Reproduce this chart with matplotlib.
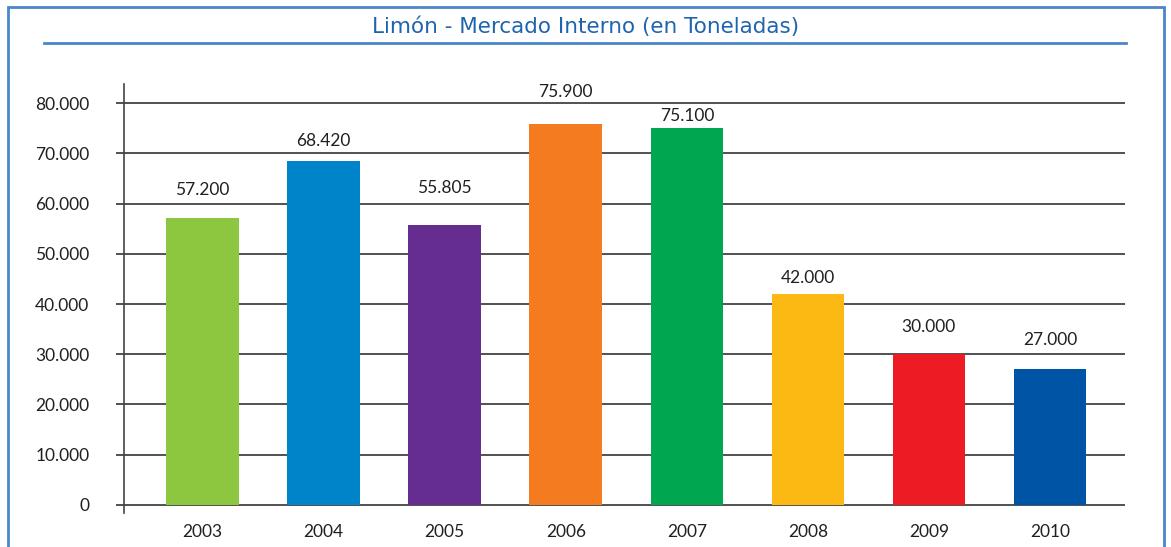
import matplotlib.pyplot as plt
from matplotlib.patches import Rectangle
from matplotlib.lines import Line2D

plt.rcParams['font.family'] = ['Lato', 'DejaVu Sans']

# datos del gráfico
years = ['2003', '2004', '2005', '2006', '2007', '2008', '2009', '2010']
toneladas = [57200, 68420, 55805, 75900, 75100, 42000, 30000, 27000]
bar_colors = ['#8DC63F', '#0084C9', '#662D91', '#F47B20',
              '#00A650', '#FDB913', '#ED1C24', '#0054A6']
y_ticks = [0, 10000, 20000, 30000, 40000, 50000, 60000, 70000, 80000]

# desplazamiento de cada etiqueta sobre la barra (px), para no pisar la grilla
label_off_px = [28, 20, 37, 32, 12, 16, 27, 29]


def fmt_miles(v):
    # separador de miles con punto
    return f'{v:,.0f}'.replace(',', '.')


fig = plt.figure(figsize=(11.71, 5.47), dpi=100)
W, H = 1171, 547

# marco azul exterior
fig.patches.append(Rectangle((8 / W, -0.05), 1156 / W, 1.05 - 7 / H,
                             transform=fig.transFigure, fill=False,
                             edgecolor='#4A86C8', linewidth=2))
# título y línea
fig.text(0.5, 1 - 27 / H, 'Limón - Mercado Interno (en Toneladas)',
         ha='center', va='center', color='#1F64AF', fontsize=15.5,
         family='DejaVu Sans')
fig.lines.append(Line2D([44 / W, 1126 / W], [1 - 43 / H, 1 - 43 / H],
                        transform=fig.transFigure, color='#4A86C8', linewidth=2))

ax = fig.add_axes([124 / W, 1 - 513 / H, (1125 - 124) / W, (513 - 84) / H])
x = range(len(years))
bars = ax.bar(x, toneladas, width=0.6, color=bar_colors, zorder=3)

for b, v, off in zip(bars, toneladas, label_off_px):
    ax.annotate(fmt_miles(v), (b.get_x() + b.get_width() / 2, v),
                xytext=(0, off * 72 / 100), textcoords='offset points',
                ha='center', va='center', fontsize=12.5, color='#231F20')

ax.set_xlim(-0.65, 7.62)
ax.set_ylim(-1600, 83800)
ax.set_yticks(y_ticks)
ax.set_yticklabels([fmt_miles(t) for t in y_ticks])
ax.set_xticks(list(x))
ax.set_xticklabels(years)

for t in y_ticks:
    ax.axhline(t, color='#333333', linewidth=1.2, zorder=1)

for s in ['top', 'right', 'bottom']:
    ax.spines[s].set_visible(False)
ax.spines['left'].set_color('#444444')
ax.spines['left'].set_linewidth(1.2)

ax.tick_params(axis='y', length=6, width=1.2, color='#333333',
               labelsize=12.5, labelcolor='#231F20', pad=19)
ax.tick_params(axis='x', length=0, labelsize=12.5, labelcolor='#231F20', pad=8)

fig.savefig('out.png', dpi=100)
